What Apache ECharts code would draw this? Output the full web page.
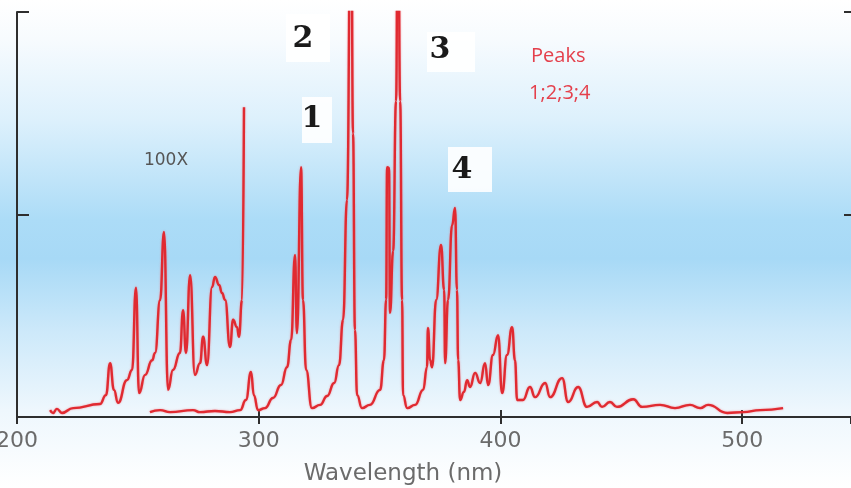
<!DOCTYPE html>
<html>
<head>
<meta charset="utf-8">
<script src="https://cdn.jsdelivr.net/npm/echarts@6/dist/echarts.min.js"></script>
<style>
  html, body { margin: 0; padding: 0; background: #fff; }
  #chart { width: 851px; height: 488px; }
</style>
</head>
<body>
<div id="chart"></div>
<script>
// Emission spectrum, wavelength in nm against relative intensity (0-100 scale).
// Main trace
const wlMain = [255.0, 259.2, 263.3, 272.8, 275.7, 281.9, 288.1, 292.3, 294.7, 296.8, 298.0, 299.7,
  302.6, 305.9, 309.2, 311.7, 313.4, 315.0, 315.8, 317.5, 318.3, 319.6, 322.0, 325.4, 328.3, 331.2,
  333.2, 334.9, 336.5, 338.2, 339.0, 339.8, 340.7, 342.7, 346.0, 350.2, 351.8, 352.7, 353.1, 353.9,
  354.3, 355.6, 356.8, 357.6, 358.5, 359.3, 359.7, 361.4, 364.7, 368.0, 369.6, 370.0, 370.9, 371.7,
  373.4, 375.4, 376.7, 377.1, 378.3, 380.0, 381.2, 382.0, 382.5, 383.3, 384.9, 386.2, 387.4, 389.5,
  391.6, 393.6, 394.9, 396.9, 399.0, 400.7, 402.7, 404.8, 406.0, 406.9, 409.3, 412.2, 414.3, 418.5,
  420.5, 425.5, 428.0, 432.1, 435.8, 440.0, 442.0, 445.3, 448.2, 454.9, 458.6, 466.0, 472.2, 478.4,
  482.6, 485.9, 493.8, 500.4, 507.4, 516.9];
const intMain = [1.2, 1.7, 1.2, 1.7, 1.2, 1.5, 1.2, 1.7, 4.2, 11.1, 5.4, 1.7,
  2.2, 4.7, 7.9, 12.3, 19, 40, 20.7, 61.7, 28.9, 11.6, 2.2, 3, 5.2, 8.4,
  12.8, 24, 53.6, 140, 70, 21.5, 5.4, 2.2, 3, 6.7, 14, 29, 61.7, 61.5,
  25.7, 41, 78, 140, 78, 28.9, 5.4, 2.2, 3, 6.7, 12.3, 22, 14, 12.3,
  28.9, 42.5, 31.4, 13.3, 28.9, 47.4, 51.6, 31.4, 14, 4.2, 6.2, 9.1, 7.4, 10.9,
  8.4, 13.3, 7.9, 15.3, 20.2, 5.9, 15.3, 22.2, 14, 4.2, 4.2, 7.4, 4.9, 8.4,
  4.9, 9.6, 3.7, 7.4, 2.5, 3.7, 2.5, 3.7, 2.5, 4.4, 2.5, 3, 2.2, 3,
  2.2, 3, 1, 1.2, 1.7, 2.2];

// Short-wavelength region magnified 100x
const wl100x = [213.7, 214.9, 216.5, 218.6, 223.2, 234.3, 236.8, 238.5, 240.1, 241.8, 245.5, 247.6,
  249.2, 250.5, 253.0, 255.9, 257.1, 259.2, 260.8, 262.5, 264.5, 267.4, 268.7, 269.9, 271.6, 273.6,
  275.7, 277.0, 278.6, 280.7, 281.9, 283.6, 284.8, 286.1, 288.1, 289.4, 291.0, 291.8, 293.1, 293.9];
const int100x = [1.7, 1, 2, 1, 2.2, 3.2, 5.4, 13.3, 6.7, 3.5, 9.1, 11.6,
  31.9, 5.9, 10.4, 14, 15.8, 28.9, 45.7, 6.7, 11.6, 15.8, 26.4, 15.8, 35, 10.4,
  13.3, 19.8, 12.8, 32.1, 34.6, 32.6, 30.6, 28.9, 17.3, 24, 22.2, 19.8, 28.9, 76.5];

const xTicks = [200, 300, 400, 500];
const peakNames = ['1', '2', '3', '4'];

const pairs = (xs, ys) => xs.map((x, i) => [x, ys[i]]);

const chart = echarts.init(document.getElementById('chart'), null, { renderer: 'canvas' });

const lineStyle = { color: '#e02a31', width: 2.4, shadowColor: 'rgba(240,110,120,0.7)', shadowBlur: 2 };
const axisColor = '#2e2e2e';
const textGray = '#6b6b6b';

function peakTag(text, cx, cy, bx, by, bw, bh) {
  return {
    type: 'group',
    children: [
      { type: 'rect', shape: { x: bx, y: by, width: bw, height: bh },
        style: { fill: 'rgba(255,255,255,0.9)' } },
      { type: 'text', x: cx, y: cy,
        style: { text: text, fill: '#1a1a1a', font: 'bold 30px "DejaVu Serif"',
                 align: 'center', verticalAlign: 'middle' } }
    ]
  };
}

chart.setOption({
  animation: false,
  backgroundColor: new echarts.graphic.LinearGradient(0, 0, 0, 1, [
    { offset: 0.0, color: '#ffffff' },
    { offset: 0.08, color: '#f7fbfe' },
    { offset: 0.25, color: '#dcf0fc' },
    { offset: 0.45, color: '#acdcf7' },
    { offset: 0.53, color: '#a7d9f6' },
    { offset: 0.68, color: '#cde9fa' },
    { offset: 0.84, color: '#eef7fd' },
    { offset: 1.0, color: '#ffffff' }
  ]),
  grid: { left: 17, right: 0, top: 12, bottom: 71, containLabel: false, outerBoundsMode: 'none' },
  xAxis: [
    {
      type: 'value', min: 200, max: 545, interval: 100, position: 'bottom',
      axisLine: { show: true, lineStyle: { color: axisColor, width: 2 } },
      axisTick: { show: true, inside: true, length: 7, lineStyle: { color: axisColor, width: 2 } },
      axisLabel: { show: true, margin: 13, color: textGray, fontSize: 22, fontFamily: 'DejaVu Sans',
                   showMaxLabel: false,
                   formatter: v => (xTicks.indexOf(v) >= 0 ? String(v) : '') },
      splitLine: { show: false },
      name: 'Wavelength (nm)', nameLocation: 'middle', nameGap: 46,
      nameTextStyle: { color: textGray, fontSize: 23, fontFamily: 'DejaVu Sans', padding: [0, 62, 0, 0] }
    },
    {
      type: 'value', min: 200, max: 545, interval: 100, position: 'top',
      axisLine: { show: true, lineStyle: { color: axisColor, width: 2 } },
      axisTick: { show: true, inside: true, length: 7, lineStyle: { color: axisColor, width: 2 } },
      axisLabel: { show: false }, splitLine: { show: false }
    }
  ],
  yAxis: [
    {
      type: 'value', min: 0, max: 100, interval: 50, position: 'left',
      axisLine: { show: true, lineStyle: { color: axisColor, width: 2 } },
      axisTick: { show: true, inside: true, length: 12, lineStyle: { color: axisColor, width: 2 } },
      axisLabel: { show: false }, splitLine: { show: false }
    },
    {
      type: 'value', min: 0, max: 100, interval: 50, position: 'right',
      axisLine: { show: false },
      axisTick: { show: true, inside: true, length: 7, lineStyle: { color: axisColor, width: 2 } },
      axisLabel: { show: false }, splitLine: { show: false }
    }
  ],
  series: [
    {
      name: '100X', type: 'line', data: pairs(wl100x, int100x),
      showSymbol: false, smooth: 0.5, smoothMonotone: 'x', clip: true,
      lineStyle: lineStyle
    },
    {
      name: 'Spectrum', type: 'line', data: pairs(wlMain, intMain),
      showSymbol: false, smooth: 0.5, smoothMonotone: 'x', clip: true,
      lineStyle: lineStyle
    }
  ],
  graphic: [
    { type: 'text', x: 166, y: 161,
      style: { text: '100X', fill: '#555555', font: '17px "DejaVu Sans"', align: 'center', verticalAlign: 'middle' } },
    peakTag(peakNames[1], 303, 39, 286, 14, 44, 48),
    peakTag(peakNames[0], 312, 119, 302, 97, 30, 46),
    peakTag(peakNames[2], 440, 50, 427, 32, 48, 40),
    peakTag(peakNames[3], 462, 170, 448, 147, 44, 45),
    { type: 'text', x: 531, y: 56,
      style: { text: 'Peaks', fill: '#e4404c', font: '20px "Open Sans"', align: 'left', verticalAlign: 'middle' } },
    { type: 'text', x: 529, y: 93,
      style: { text: peakNames.join(';'), fill: '#e4404c', font: '20px "Open Sans"', align: 'left', verticalAlign: 'middle' } }
  ]
});
</script>
</body>
</html>
